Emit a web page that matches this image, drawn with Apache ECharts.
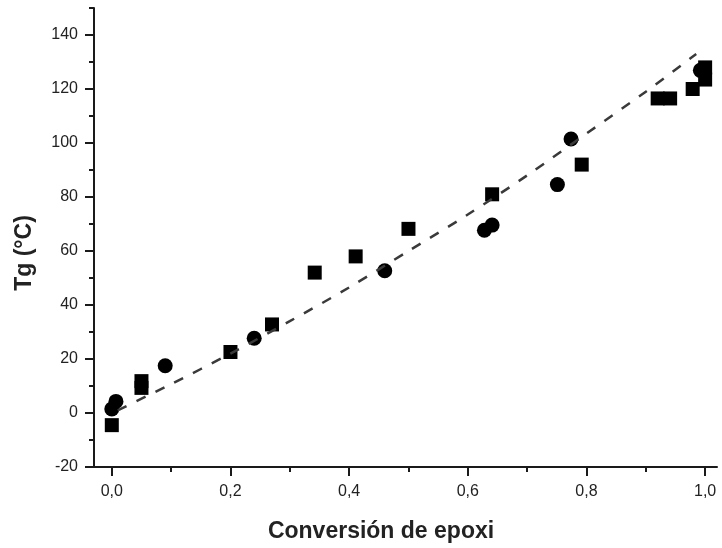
<!DOCTYPE html>
<html>
<head>
<meta charset="utf-8">
<script src="https://cdn.jsdelivr.net/npm/echarts@6/dist/echarts.min.js"></script>
<style>
  html, body { margin: 0; padding: 0; background: #fff; }
  #chart { width: 722px; height: 548px; }
</style>
</head>
<body>
<div id="chart"></div>
<script>
// conversion vs Tg
const squares = [
  [0.0, -4.5], [0.05, 9.3], [0.05, 11.8], [0.2, 22.6], [0.27, 32.8],
  [0.342, 52], [0.411, 58], [0.5, 68.2], [0.641, 81], [0.792, 92],
  [0.92, 116.5], [0.941, 116.5], [0.979, 120], [1.0, 123.5], [1.0, 128]
]
const circles = [
  [0.0, 1.5], [0.007, 4.3], [0.09, 17.5], [0.24, 27.7], [0.46, 52.7],
  [0.628, 67.7], [0.641, 69.6], [0.751, 84.6], [0.774, 101.5], [0.992, 126.9]
]
// dashed fit curve
const fitLine = [
  [0.01, 1], [0.1, 10.7], [0.2, 22], [0.3, 34], [0.4, 46.5], [0.5, 60],
  [0.6, 73.5], [0.7, 88], [0.8, 103.5], [0.9, 119], [0.985, 133]
]
const xMajor = [0, 0.2, 0.4, 0.6, 0.8, 1.0]
const xMinor = [0.1, 0.3, 0.5, 0.7, 0.9]
const yMajor = [-20, 0, 20, 40, 60, 80, 100, 120, 140]
const yMinor = [-10, 10, 30, 50, 70, 90, 110, 130, 150]

const axisColor = '#1a1a1a'
const labelStyle = { color: '#222', fontSize: 16, fontFamily: 'Liberation Sans, Arial, sans-serif' }
const nameStyle = { color: '#222', fontSize: 23, fontWeight: 'bold', fontFamily: 'Liberation Sans, Arial, sans-serif' }

const chart = echarts.init(document.getElementById('chart'))

const option = {
  backgroundColor: '#fff',
  animation: false,
  grid: { left: 94, right: 5, top: 8, bottom: 81 },
  xAxis: [
    {
      type: 'value', min: -0.03, max: 1.02,
      axisLine: { show: true, onZero: false, lineStyle: { color: axisColor, width: 2 } },
      axisTick: { show: true, customValues: xMajor, length: 9, lineStyle: { color: axisColor, width: 2 } },
      axisLabel: {
        customValues: xMajor, margin: 17, ...labelStyle,
        formatter: v => v.toFixed(1).replace('.', ',')
      },
      splitLine: { show: false },
      name: 'Conversión de epoxi',
      nameLocation: 'middle',
      nameGap: 53,
      nameTextStyle: { ...nameStyle, padding: [0, 49, 0, 0] }
    },
    {
      type: 'value', min: -0.03, max: 1.02, position: 'bottom',
      axisLine: { show: false, onZero: false },
      axisTick: { show: true, customValues: xMinor, length: 5, lineStyle: { color: axisColor, width: 2 } },
      axisLabel: { show: false },
      splitLine: { show: false }
    }
  ],
  yAxis: [
    {
      type: 'value', min: -20, max: 150,
      axisLine: { show: true, onZero: false, lineStyle: { color: axisColor, width: 2 } },
      axisTick: { show: true, customValues: yMajor, length: 9, lineStyle: { color: axisColor, width: 2 } },
      axisLabel: { customValues: yMajor, margin: 16, ...labelStyle },
      splitLine: { show: false },
      name: 'Tg (°C)',
      nameLocation: 'middle',
      nameGap: 58,
      nameTextStyle: { ...nameStyle, padding: [0, 31, 0, 0] }
    },
    {
      type: 'value', min: -20, max: 150, position: 'left',
      axisLine: { show: false, onZero: false },
      axisTick: { show: true, customValues: yMinor, length: 5, lineStyle: { color: axisColor, width: 2 } },
      axisLabel: { show: false },
      splitLine: { show: false }
    }
  ],
  series: [
    {
      type: 'line',
      data: fitLine,
      smooth: 0.3,
      showSymbol: false,
      symbol: 'none',
      lineStyle: { color: '#3a3a3a', width: 2.5, type: [10, 11] }
    },
    {
      type: 'scatter',
      data: squares,
      symbol: 'rect',
      symbolSize: 14,
      itemStyle: { color: '#000', opacity: 1 }
    },
    {
      type: 'scatter',
      data: circles,
      symbol: 'circle',
      symbolSize: 15,
      itemStyle: { color: '#000', opacity: 1 }
    }
  ]
}

chart.setOption(option)
window.addEventListener('resize', () => chart.resize())
</script>
</body>
</html>
